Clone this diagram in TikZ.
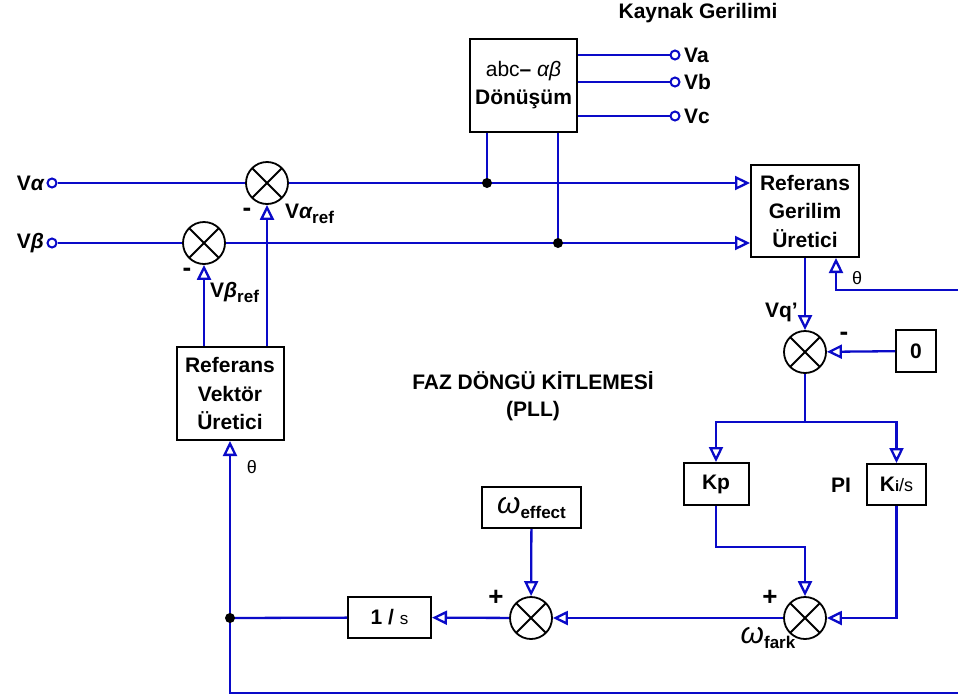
\documentclass[tikz,border=0pt]{standalone}
\usepackage{fontspec}
\setmainfont{Liberation Sans}
\usetikzlibrary{arrows.meta}
\definecolor{wireblue}{RGB}{10,10,200}
\tikzset{gbox/.style={
    rectangle,
    draw,
    line width=2pt,
    align=center,
    inner sep=0pt,
    font=\bfseries\fontsize{21}{28.5}\selectfont
  },
  sumbox/.style={circle,draw,line width=1.8pt,minimum size=42pt,inner sep=0pt,
    path picture={\draw[line width=1.8pt]
      (path picture bounding box.north west) -- (path picture bounding box.south east)
      (path picture bounding box.north east) -- (path picture bounding box.south west);}},
  termbox/.style={circle,draw=wireblue,line width=2pt,fill=white,minimum size=9pt,inner sep=0pt},
  dotbox/.style={circle,fill=black,minimum size=10pt,inner sep=0pt},
  lbl/.style={font=\bfseries\fontsize{21}{25}\selectfont,inner sep=0pt},
  thlbl/.style={font=\fontsize{18}{20}\selectfont,inner sep=0pt},
  wire/.style={draw=wireblue,line width=2.3pt},
  arr/.style={wire,-{Triangle[open,length=15pt,width=14pt,line width=2.3pt]}}
}
\newcommand{\smallsub}[1]{\raisebox{-5pt}{\fontsize{17}{17}\selectfont #1}}
\begin{document}
\begin{tikzpicture}[x=1pt,y=-1pt]
  \useasboundingbox (0,0) rectangle (958,699);
  % blocks
  \node [gbox,minimum width=107pt,minimum height=93pt] (abc) at (523.5,85) {{\mdseries abc}– {\mdseries\itshape αβ}\\Dönüşüm};
  \node [gbox,minimum width=108pt,minimum height=92pt] (refgen) at (805,211) {Referans\\Gerilim\\Üretici};
  \node [gbox,minimum width=107pt,minimum height=93pt] (refvec) at (230,393.5) {Referans\\Vektör\\Üretici};
  \node [gbox,minimum width=40pt,minimum height=42pt] (zero) at (916,351) {0};
  \node [gbox,minimum width=65pt,minimum height=42pt] (kp) at (716,484) {Kp};
  \node [gbox,minimum width=59pt,minimum height=41pt] (ki) at (896.5,484.5) {K{\fontsize{15}{15}\selectfont i}{\mdseries\fontsize{18}{18}\selectfont/s}};
  \node [gbox,minimum width=99pt,minimum height=41pt] (weff) at (531.5,507.5) {{\mdseries\itshape\fontsize{30}{30}\selectfont ω}\smallsub{\bfseries effect}};
  \node [gbox,minimum width=83pt,minimum height=41pt] (ones) at (389.5,617.5) {1 / {\mdseries\fontsize{17}{17}\selectfont s}};
  % summing points
  \node [sumbox] (s1) at (267,183) {};
  \node [sumbox] (s2) at (204,243) {};
  \node [sumbox] (s3) at (805,352) {};
  \node [sumbox] (s4) at (805,618) {};
  \node [sumbox] (s5) at (531,618) {};
  % terminals and junctions
  \node [termbox] (tva) at (52,183) {};
  \node [termbox] (tvb) at (52,243) {};
  \node [termbox] (ta) at (675,55) {};
  \node [termbox] (tb) at (675,82) {};
  \node [termbox] (tc) at (675,116) {};
  \coordinate (d1) at (487,183);
  \coordinate (d2) at (558,243);
  \coordinate (d3) at (230,618);
  \coordinate (br) at (805,422);
  \coordinate (kpbend) at (716,547);
  \coordinate (thtop) at (958,290);
  \coordinate (thbot) at (958,693);
  % wires
  \draw[wire] (abc.east |- ta) -- (ta);
  \draw[wire] (abc.east |- tb) -- (tb);
  \draw[wire] (abc.east |- tc) -- (tc);
  \draw[wire] (tva) -- (s1);
  \draw[arr] (s1) -- (refgen.west |- s1);
  \draw[wire] (tvb) -- (s2);
  \draw[arr] (s2) -- (refgen.west |- s2);
  \draw[wire] (d1 |- abc.south) -- (d1);
  \draw[wire] (d2 |- abc.south) -- (d2);
  \draw[arr] (refvec.north -| s2) -- (s2);
  \draw[arr] (refvec.north -| s1) -- (s1);
  \draw[arr] (refgen.south -| s3) -- (s3);
  \draw[arr] (thtop) -| ([xshift=31pt]refgen.south);
  \draw[arr] (zero) -- (s3);
  \draw[wire] (s3) -- (br);
  \draw[arr] (br) -| (kp.north);
  \draw[arr] (br) -| (ki.north);
  \draw[arr] (kp.south) -- (kpbend) -| (s4.north);
  \draw[arr] (ki.south) |- (s4.east);
  \draw[arr] (s4) -- (s5);
  \draw[arr] (weff) -- (s5);
  \draw[arr] (s5) -- (ones);
  \draw[wire] (ones) -- (d3);
  \draw[arr] (d3) -- (refvec.south);
  \draw[wire] (d3) |- (thbot);
  \node [dotbox] at (d1) {};
  \node [dotbox] at (d2) {};
  \node [dotbox] at (d3) {};
  % labels
  \node [lbl] (kaynak) at (698,13) {Kaynak Gerilimi};
  \node [lbl,anchor=west] (la) at (684,55) {Va};
  \node [lbl,anchor=west] (lb) at (684,82) {Vb};
  \node [lbl,anchor=west] (lc) at (684,116) {Vc};
  \node [lbl,anchor=east] (lva) at (44,183) {V{\itshape α}};
  \node [lbl,anchor=east] (lvb) at (44,243) {V{\itshape β}};
  \node [lbl,font=\bfseries\fontsize{26}{26}\selectfont] (m1) at (247,212) {-};
  \node [lbl,font=\bfseries\fontsize{26}{26}\selectfont] (m2) at (187,272) {-};
  \node [lbl,font=\bfseries\fontsize{26}{26}\selectfont] (m3) at (844,336) {-};
  \node [lbl,anchor=west] (lvaref) at (285,214) {V{\itshape α}\smallsub{ref}};
  \node [lbl,anchor=west] (lvbref) at (210,292) {V{\itshape β}\smallsub{ref}};
  \node [lbl,anchor=east] (lvq) at (798,312) {Vq{\char"27}};
  \node [thlbl] (th1) at (857,278) {θ};
  \node [thlbl] (th2) at (252,467) {θ};
  \node [lbl] (lpi) at (841,485) {PI};
  \node [lbl,font=\bfseries\fontsize{26}{26}\selectfont] (p5) at (496,598) {+};
  \node [lbl,font=\bfseries\fontsize{26}{26}\selectfont] (p4) at (770,598) {+};
  \node [lbl] (lwf) at (768,638) {{\mdseries\itshape\fontsize{30}{30}\selectfont ω}\smallsub{fark}};
  \node [lbl,align=center] (pll) at (533,396) {FAZ DÖNGÜ KİTLEMESİ\\[2pt](PLL)};
\end{tikzpicture}
\end{document}
